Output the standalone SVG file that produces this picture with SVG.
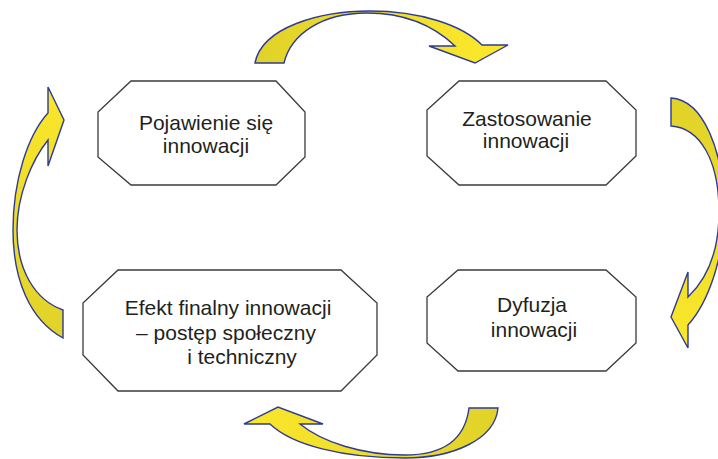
<svg xmlns="http://www.w3.org/2000/svg" width="718" height="459" viewBox="0 0 718 459">
  <style>
    .box { fill: #ffffff; stroke: #3a3a3a; stroke-width: 1.3; }
    .lbl { font-family: "Liberation Sans", Arial, sans-serif; font-size: 21px; fill: #231f20; text-anchor: middle; }
    .arrow { stroke: #2e3b94; stroke-width: 1.4; stroke-linejoin: miter; }
  </style>
  <defs>
    <linearGradient id="gTop" gradientUnits="userSpaceOnUse" x1="255" y1="0" x2="480" y2="0">
      <stop offset="0" stop-color="#e1d229"/>
      <stop offset="1" stop-color="#fae72b"/>
    </linearGradient>
    <linearGradient id="gRight" gradientUnits="userSpaceOnUse" x1="0" y1="98" x2="0" y2="340">
      <stop offset="0" stop-color="#e1d229"/>
      <stop offset="1" stop-color="#fae72b"/>
    </linearGradient>
    <linearGradient id="gBottom" gradientUnits="userSpaceOnUse" x1="498" y1="0" x2="250" y2="0">
      <stop offset="0" stop-color="#e1d229"/>
      <stop offset="1" stop-color="#fae72b"/>
    </linearGradient>
    <linearGradient id="gLeft" gradientUnits="userSpaceOnUse" x1="0" y1="338" x2="0" y2="90">
      <stop offset="0" stop-color="#e1d229"/>
      <stop offset="1" stop-color="#fae72b"/>
    </linearGradient>
  </defs>

  <!-- curved arrows of the cycle -->
  <g id="connectors">
    <path class="arrow" fill="url(#gTop)" d="M255,63 C262,27 320,11 370,11 C420,11 462,25 482,45 L508,45 L475,63 L429,46 L455,46 C432,24 402,13 367,13 C322,13 291,34 284,63 Z"/>
    <path class="arrow" fill="url(#gRight)" d="M671,98 C703,100 724,150 724,212 C724,258 708,303 688,325 L688,348 L671,317 L688,272 L688,297 C708,278 719,250 719,212 C719,160 700,128 671,126 Z"/>
    <path class="arrow" fill="url(#gBottom)" d="M498,408 C495,440 452,458 405,458 C342,458 292,445 270,424 L244,424 L278,407 L323,424 L300,424 C322,442 362,455 405,455 C442,455 465,440 469,408 Z"/>
    <path class="arrow" fill="url(#gLeft)" d="M63,338 C30,320 13,280 13,230 C13,180 28,135 48,113 L48,87 L64,120 L48,166 L48,140 C32,160 17,195 17,230 C17,270 35,300 63,310 Z"/>
  </g>

  <g id="node-pojawienie">
    <polygon class="box" points="131,81 276,81 305,112 305,157 276,185 131,185 98,157 98,112"/>
    <text class="lbl" x="206" y="130">Pojawienie się</text>
    <text class="lbl" x="206" y="153">innowacji</text>
  </g>

  <g id="node-zastosowanie">
    <polygon class="box" points="459,81 606,81 636,110 636,156 606,185 459,185 427,156 427,110"/>
    <text class="lbl" x="527" y="126">Zastosowanie</text>
    <text class="lbl" x="526" y="148">innowacji</text>
  </g>

  <g id="node-dyfuzja">
    <polygon class="box" points="458,270 606,270 636,297 636,343 606,371 458,371 427,343 427,297"/>
    <text class="lbl" x="532" y="312">Dyfuzja</text>
    <text class="lbl" x="534" y="337">innowacji</text>
  </g>

  <g id="node-efekt">
    <polygon class="box" points="118,270 341,270 377,303 377,355 341,391 118,391 83,355 83,303"/>
    <text class="lbl" x="228" y="315">Efekt finalny innowacji</text>
    <text class="lbl" x="226" y="340">– postęp społeczny</text>
    <text class="lbl" x="242" y="364">i techniczny</text>
  </g>
</svg>
